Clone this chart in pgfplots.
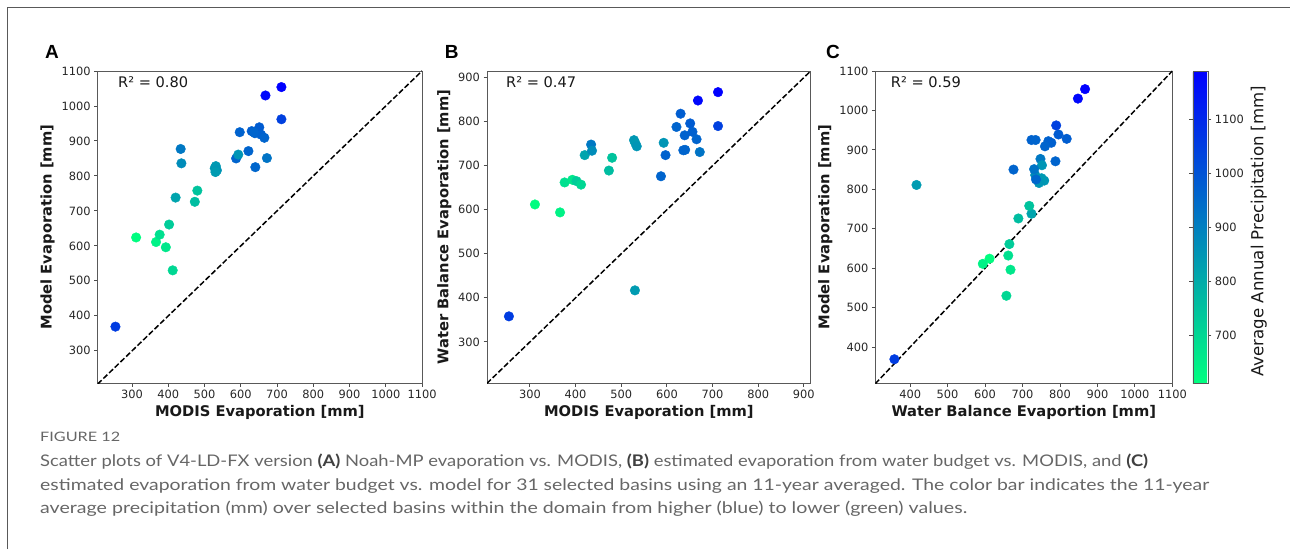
\documentclass[border=0pt]{standalone}
\usepackage{fontspec}
\setmainfont{DejaVu Sans}
\newfontfamily\capfont{Lato}
\newfontfamily\letterfont{Liberation Sans}
\usepackage{graphicx}
\usepackage{pgfplots}
\pgfplotsset{compat=1.18}
\usepackage{pgfplotstable}

% basin: MODIS, water balance, model evaporation, precipitation
\pgfplotstableread{
mod wb mdl p
254 358 369 1050
311 612 624 615
366 594 611 640
376 662 632 680
393 668 596 665
402 665 661 725
412 657 530 700
420 724 738 815
434 748 877 915
436 734 836 870
473 689 726 760
480 718 758 745
528 758 822 845
531 751 828 840
534 744 816 850
530 417 811 835
587 676 850 960
593 752 861 850
597 724 925 965
621 788 871 960
630 818 928 975
639 769 922 965
651 796 939 980
656 777 918 970
665 760 909 960
668 848 1030 1170
672 731 851 925
712 867 1054 1189
712 790 962 1040
640 736 825 955
636 735 925 960
}\basins

\newsavebox\capbox
\newlength\capwd
\newcommand\capline[2]{\sbox\capbox{#2}\setlength\capwd{\wd\capbox}\pgfmathsetmacro\capsx{#1/\the\capwd}\scalebox{\capsx}[1]{\usebox\capbox}}

\pgfplotsset{
  panel/.style={
    scale only axis, height=312.3pt, anchor=south west,
    axis line style={draw=black!65, line width=0.9pt},
    tick align=outside, major tick length=3.5pt,
    tick style={black!70, line width=0.9pt},
    xtick pos=bottom, ytick pos=left,
    ticklabel style={font=\fontsize{11.4}{13}\selectfont, text=black!85},
    label style={font=\bfseries\fontsize{14.7}{17}\selectfont, text=black!90},
    /pgf/number format/1000 sep={},
    /pgf/number format/assume math mode=true,
    colormap={winterr}{rgb=(0,1,0.5) rgb=(0,0,1)},
    point meta min=611, point meta max=1189,
  },
  pts/.style={scatter, only marks, mark=*, mark size=4.8pt, scatter src=explicit,
    scatter/use mapped color={draw=mapped color, fill=mapped color}},
  diag/.style={black, line width=1.5pt, dash pattern=on 5.5pt off 2.4pt},
}

\begin{document}
\begin{tikzpicture}
\path[use as bounding box] (0pt,0pt) rectangle (1290pt,549pt);
\draw[black!65, line width=1.2pt] (7.5pt,0pt) -- (7.5pt,541.5pt) -- (1290pt,541.5pt);

% Panel A
\begin{axis}[panel, at={(97.7pt,165.7pt)}, width=324.3pt,
  xmin=205, xmax=1100, ymin=207, ymax=1100,
  xtick={300,400,...,1100}, ytick={300,400,...,1100},
  xlabel={MODIS Evaporation [mm]}, ylabel={Model Evaporation [mm]}]
\addplot[pts] table[x=mod, y=mdl, meta=p] {\basins};
\addplot[diag] coordinates {(205,205) (1100,1100)};
\end{axis}

% Panel B
\begin{axis}[panel, at={(487pt,165.7pt)}, width=323.7pt,
  xmin=206, xmax=915, ymin=206, ymax=915,
  xtick={300,400,...,900}, ytick={300,400,...,900},
  xlabel={MODIS Evaporation [mm]}, ylabel={Water Balance Evaporation [mm]}]
\addplot[pts] table[x=mod, y=wb, meta=p] {\basins};
\addplot[diag] coordinates {(206,206) (915,915)};
\end{axis}

% Panel C
\begin{axis}[panel, at={(875.3pt,165.7pt)}, width=297pt,
  xmin=307, xmax=1100, ymin=308, ymax=1100,
  xtick={400,500,...,1100}, ytick={400,500,...,1100},
  xlabel={Water Balance Evaportion [mm]}, ylabel={Model Evaporation [mm]},
  colorbar,
  colorbar style={scale only axis, width=15pt, height=312.3pt,
    at={(parent axis.south east)}, anchor=south west, xshift=12pt,
    ytick={700,800,900,1000,1100},
    axis line style={draw=black!65, line width=0.6pt},
    tick align=outside, major tick length=3.5pt,
    tick style={black!70, line width=0.9pt},
    yticklabel style={font=\fontsize{11.4}{13}\selectfont, text=black!85},
    /pgf/number format/1000 sep={},
    /pgf/number format/assume math mode=true,
    ylabel={Average Annual Precipitation [mm]},
    ylabel style={font=\fontsize{16.6}{18}\selectfont, text=black!90, xshift=-4pt}}]
\addplot[pts] table[x=wb, y=mdl, meta=p] {\basins};
\addplot[diag] coordinates {(307,307) (1100,1100)};
\end{axis}

% panel letters
\node[font=\letterfont\bfseries\fontsize{19}{21}\selectfont] at (52pt,497pt) {A};
\node[font=\letterfont\bfseries\fontsize{19}{21}\selectfont] at (451.7pt,497pt) {B};
\node[font=\letterfont\bfseries\fontsize{19}{21}\selectfont] at (833pt,497pt) {C};

% R2 texts
\node[anchor=west, inner sep=0pt, font=\fontsize{14.6}{16}\selectfont, text=black!90] at (118pt,467pt) {R² = 0.80};
\node[anchor=west, inner sep=0pt, font=\fontsize{14.6}{16}\selectfont, text=black!90] at (506pt,467pt) {R² = 0.47};
\node[anchor=west, inner sep=0pt, font=\fontsize{14.6}{16}\selectfont, text=black!90] at (890.7pt,467pt) {R² = 0.59};

% caption
\node[anchor=west, inner sep=0pt, text=black!60, font=\capfont\fontsize{13}{15}\selectfont] at (40pt,112pt) {\capline{80}{FIGURE 12}};
\node[anchor=west, inner sep=0pt, text=black!60, font=\capfont\fontsize{16}{18}\selectfont] at (40pt,87pt)
  {\capline{1108}{Scatter plots of V4-LD-FX version {\bfseries\color{black!75}(A)} Noah-MP evaporation vs. MODIS, {\bfseries\color{black!75}(B)} estimated evaporation from water budget vs. MODIS, and {\bfseries\color{black!75}(C)}}};
\node[anchor=west, inner sep=0pt, text=black!60, font=\capfont\fontsize{16}{18}\selectfont] at (40pt,63pt)
  {\capline{1169}{estimated evaporation from water budget vs. model for 31 selected basins using an 11-year averaged. The color bar indicates the 11-year}};
\node[anchor=west, inner sep=0pt, text=black!60, font=\capfont\fontsize{16}{18}\selectfont] at (40pt,40pt)
  {\capline{927}{average precipitation (mm) over selected basins within the domain from higher (blue) to lower (green) values.}};
\end{tikzpicture}
\end{document}
